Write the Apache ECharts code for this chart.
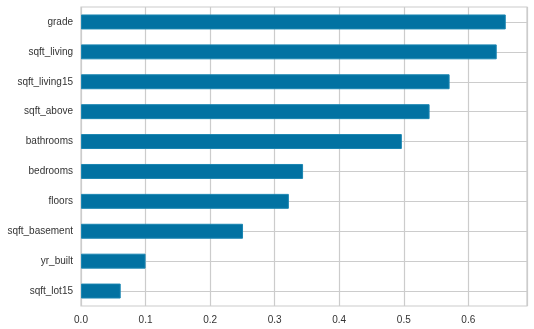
<!DOCTYPE html>
<html>
<head>
<meta charset="utf-8">
<script src="https://cdn.jsdelivr.net/npm/echarts@6/dist/echarts.min.js"></script>
<style>
  html, body { margin: 0; padding: 0; background: #fff; }
  #chart { width: 534px; height: 329px; }
</style>
</head>
<body>
<div id="chart"></div>
<script>
// Feature names, listed top to bottom
const features = ['grade', 'sqft_living', 'sqft_living15', 'sqft_above', 'bathrooms',
  'bedrooms', 'floors', 'sqft_basement', 'yr_built', 'sqft_lot15'];
// Correlation with price for each feature
const correlations = [0.658, 0.644, 0.571, 0.540, 0.497, 0.344, 0.322, 0.251, 0.100, 0.0615];
const xTickStep = 0.1;

const xMax = Math.max(...correlations) * 1.05;

const chart = echarts.init(document.getElementById('chart'), null, { renderer: 'canvas' });
chart.setOption({
  animation: false,
  backgroundColor: '#ffffff',
  grid: {
    left: 81, right: 7, top: 7, bottom: 23,
    show: true, borderColor: '#cccccc', borderWidth: 1.2, backgroundColor: 'transparent'
  },
  xAxis: {
    type: 'value',
    min: 0,
    max: xMax,
    interval: xTickStep,
    axisLine: { show: false },
    axisTick: { show: false },
    splitLine: { show: true, lineStyle: { color: '#cccccc', width: 1.2 } },
    axisLabel: {
      color: '#333333', fontSize: 10, fontFamily: 'Liberation Sans, Arial, sans-serif',
      margin: 9, showMaxLabel: false,
      formatter: v => v.toFixed(1)
    }
  },
  yAxis: {
    type: 'category',
    data: features,
    inverse: true,
    axisLine: { show: false },
    axisTick: { show: false, alignWithLabel: true },
    splitLine: { show: true, alignWithLabel: true, lineStyle: { color: '#cccccc', width: 1.2 } },
    axisLabel: {
      color: '#333333', fontSize: 10, fontFamily: 'Liberation Sans, Arial, sans-serif',
      margin: 8
    }
  },
  series: [{
    type: 'bar',
    data: correlations,
    barWidth: '50%',
    itemStyle: { color: '#0272a2', borderColor: '#1a86b2', borderWidth: 1 },
    z: 3
  }]
});
</script>
</body>
</html>
